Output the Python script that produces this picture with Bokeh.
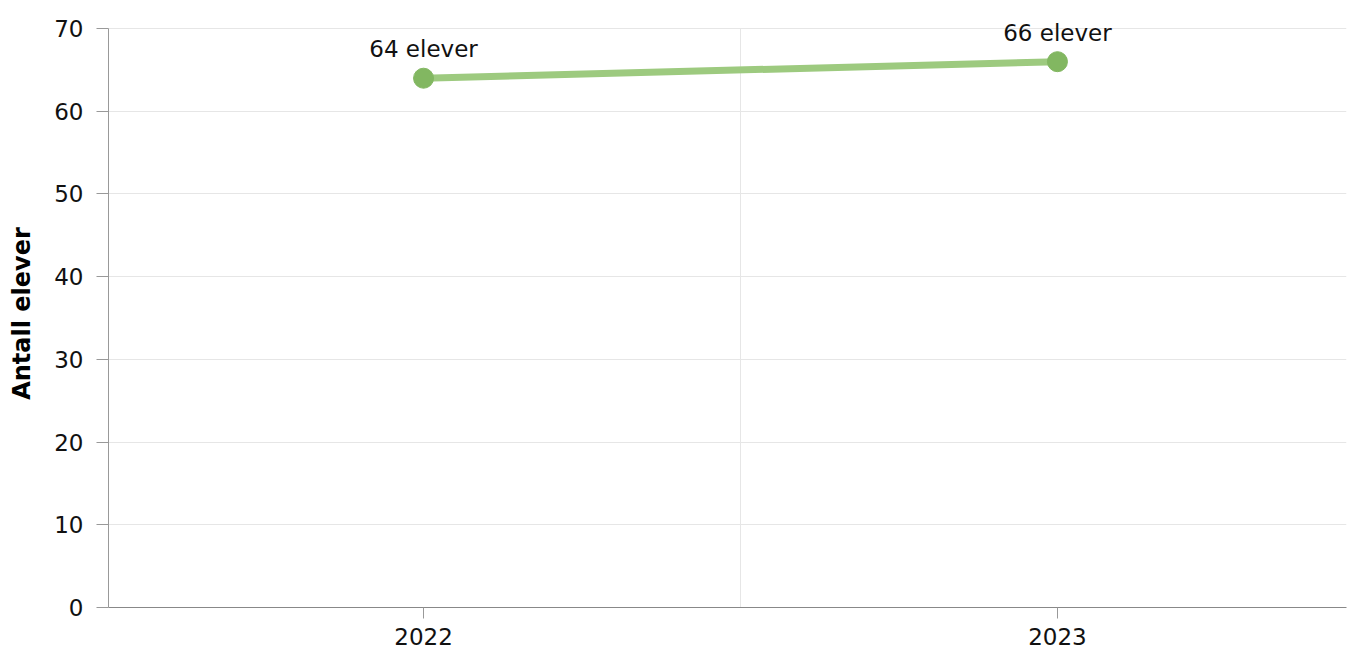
from bokeh.plotting import figure
from bokeh.models import Range1d, FixedTicker, ColumnDataSource, LabelSet
from bokeh.core.properties import value
from bokeh.embed import file_html
from bokeh.resources import INLINE

years = ["2022", "2023"]
students = [64, 66]
labels = ["64 elever", "66 elever"]
y_ticks = [0, 10, 20, 30, 40, 50, 60, 70]

xpos = [i + 0.5 for i in range(len(years))]
src = ColumnDataSource(dict(x=xpos, y=students, label=labels))

FONT = "DejaVu Sans"

p = figure(width=1348, height=648, output_backend="svg", toolbar_location=None,
           x_range=Range1d(0.003, 1.956), y_range=Range1d(0, 71.1),
           min_border_left=108, min_border_top=19, min_border_right=2, min_border_bottom=41)
p.outline_line_color = None
p.background_fill_color = "white"
p.border_fill_color = "white"

# grids
p.ygrid.ticker = FixedTicker(ticks=y_ticks)
p.ygrid.grid_line_color = "#e6e6e6"
p.ygrid.grid_line_width = 1
p.xgrid.grid_line_color = None
# category divider line (vertical grid line between the two years)
p.segment(x0=[1], y0=[y_ticks[0]], x1=[1], y1=[y_ticks[-1]], line_color="#e6e6e6", line_width=1)

# x axis
p.xaxis.ticker = FixedTicker(ticks=xpos)
p.xaxis.major_label_overrides = {x: y for x, y in zip(xpos, years)}
p.xaxis.minor_tick_line_color = None
p.xaxis.major_tick_in = 0
p.xaxis.major_tick_out = 11
p.xaxis.major_tick_line_color = "#999999"
p.xaxis.axis_line_color = "#888888"
p.xaxis.major_label_text_font = FONT
p.xaxis.major_label_text_font_size = "23px"
p.xaxis.major_label_text_color = "#111111"
p.xaxis.major_label_standoff = 9

# y axis
p.yaxis.ticker = FixedTicker(ticks=y_ticks)
p.yaxis.bounds = (y_ticks[0], y_ticks[-1])
p.yaxis.minor_tick_line_color = None
p.yaxis.major_tick_in = 0
p.yaxis.major_tick_out = 12
p.yaxis.major_tick_line_color = "#999999"
p.yaxis.axis_line_color = "#999999"
p.yaxis.major_label_text_font = FONT
p.yaxis.major_label_text_font_size = "23px"
p.yaxis.major_label_text_color = "#111111"
p.yaxis.major_label_standoff = 13
p.yaxis.axis_label = "Antall elever"
p.yaxis.axis_label_text_font = FONT
p.yaxis.axis_label_text_font_style = "bold"
p.yaxis.axis_label_text_font_size = "24px"
p.yaxis.axis_label_text_color = "#000000"
p.yaxis.axis_label_standoff = 15

p.line("x", "y", source=src, line_color="#9dca7f", line_width=7)
p.scatter("x", "y", source=src, size=20, fill_color="#82b761", line_color="#82b761")
lbl = LabelSet(x="x", y="y", text="label", source=src, text_align="center",
               text_baseline="bottom", y_offset=16, text_font=value(FONT),
               text_font_size=value("23px"), text_color=value("#111111"))
p.add_layout(lbl)

open("out.html", "w").write(file_html(p, INLINE))
